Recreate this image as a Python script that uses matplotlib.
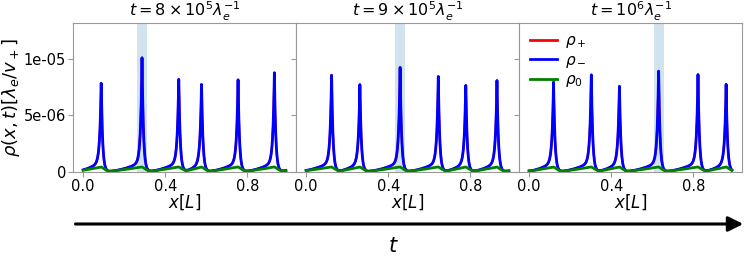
import numpy as np
import matplotlib
matplotlib.use("Agg")
import matplotlib.pyplot as plt

# ---- data ----
titles = [r"$t = 8\times10^5\lambda_e^{-1}$",
          r"$t = 9\times10^5\lambda_e^{-1}$",
          r"$t = 10^6\lambda_e^{-1}$"]
peak_pos_1 = [0.088, 0.287, 0.466, 0.577, 0.755, 0.932]
peak_h_1 = [7.87e-6, 1.015e-5, 8.35e-6, 7.87e-6, 8.23e-6, 8.76e-6]
peak_pos_2 = [0.124, 0.262, 0.458, 0.644, 0.778, 0.930]
peak_h_2 = [8.68e-6, 7.80e-6, 9.32e-6, 8.50e-6, 7.80e-6, 8.09e-6]
peak_pos_3 = [0.119, 0.303, 0.440, 0.631, 0.823, 0.960]
peak_h_3 = [8.00e-6, 8.68e-6, 7.71e-6, 9.03e-6, 8.65e-6, 7.74e-6]
span_1 = (0.263, 0.312)
span_2 = (0.433, 0.482)
span_3 = (0.609, 0.656)
base_top = 0.9e-6      # level of rho_- at the foot of a peak
base_floor = 0.02e-6
rho0_top = 0.45e-6     # height of rho_0 bumps
peak_width = 0.007
x_end = 0.988
xticks = [0.0, 0.4, 0.8]
yticks = [0, 5e-6, 1e-5]
ytick_labels = ["0", "5e-06", "1e-05"]
legend_labels = [r"$\rho_+$", r"$\rho_-$", r"$\rho_0$"]


def profiles(x, pos, hts):
    pos = np.asarray(pos)
    hts = np.asarray(hts)
    L = 1.0
    rho_m = np.zeros_like(x)
    for p, h in zip(pos, hts):
        d = np.minimum(np.abs(x - p), L - np.abs(x - p))
        rho_m += (h - base_top) * np.exp(-d / peak_width)
    ext = np.concatenate([pos - L, pos, pos + L])
    ramp = np.zeros_like(x)
    g = np.zeros_like(x)
    for i, xi in enumerate(x):
        prev = ext[ext <= xi].max()
        nxt = ext[ext > xi].min()
        t = (xi - prev) / (nxt - prev)
        ds = xi - prev
        ramp[i] = (base_floor + (base_top - base_floor) * t**2
                   + (base_top - base_floor) * np.exp(-ds / 0.006))
        g[i] = rho0_top * t**1.3 + rho0_top * max(0.0, 1 - ds / 0.035)
    rho_m += ramp
    return rho_m, g


x = np.linspace(0, x_end, 3000)
fig = plt.figure(figsize=(7.47, 2.61), dpi=100)
left, right, bottom, top = 73 / 747, 742 / 747, 1 - 172 / 261, 1 - 22.7 / 261
w = (right - left) / 3
axes = []
for k, (pos, hts, span, title) in enumerate(zip(
        [peak_pos_1, peak_pos_2, peak_pos_3],
        [peak_h_1, peak_h_2, peak_h_3],
        [span_1, span_2, span_3], titles)):
    ax = fig.add_axes([left + k * w, bottom, w, top - bottom],
                      sharey=axes[0] if axes else None)
    axes.append(ax)
    rm, r0 = profiles(x, pos, hts)
    ax.axvspan(span[0], span[1], color="tab:blue", alpha=0.2, lw=0)
    ax.plot(x, rm, color="red", lw=1.6, label=legend_labels[0])
    ax.plot(x, rm, color="blue", lw=2, label=legend_labels[1])
    ax.plot(x, r0, color="green", lw=2, label=legend_labels[2])
    ax.set_title(title, fontsize=11.5, pad=4)
    ax.set_xticks(xticks)
    ax.set_xticklabels([f"{v:.1f}" for v in xticks], fontsize=10.5)
    ax.set_xlabel(r"$x[L]$", fontsize=12, labelpad=-1)
    ax.set_ylim(0, 1.317e-5)
    ax.set_yticks(yticks)
    for s in ax.spines.values():
        s.set_color("0.6")
    ax.tick_params(colors="0.6", labelcolor="black", pad=1.5)
    if k == 0:
        ax.set_yticklabels(ytick_labels, fontsize=10.5)
        ax.set_ylabel(r"$\rho(x,t)[\lambda_e/v_+]$", fontsize=13, labelpad=1)
    else:
        ax.tick_params(labelleft=False)
    if k == 2:
        leg = ax.legend(loc="upper left", frameon=False, fontsize=11,
                        handlelength=1.8, handletextpad=0.5, labelspacing=0.15,
                        borderaxespad=0.3)
        leg.get_lines()[0].set_linewidth(2)

fig.patches.append(matplotlib.patches.FancyArrowPatch(
    (72.7 / 747, 1 - 224 / 261), (746 / 747, 1 - 224 / 261),
    transform=fig.transFigure, arrowstyle="-|>,head_length=6,head_width=3",
    mutation_scale=1.5, lw=2.2, color="black"))
fig.text(393 / 747, 1 - 246 / 261, r"$t$", fontsize=15, ha="center", va="center")
fig.savefig("out.png", dpi=100)
